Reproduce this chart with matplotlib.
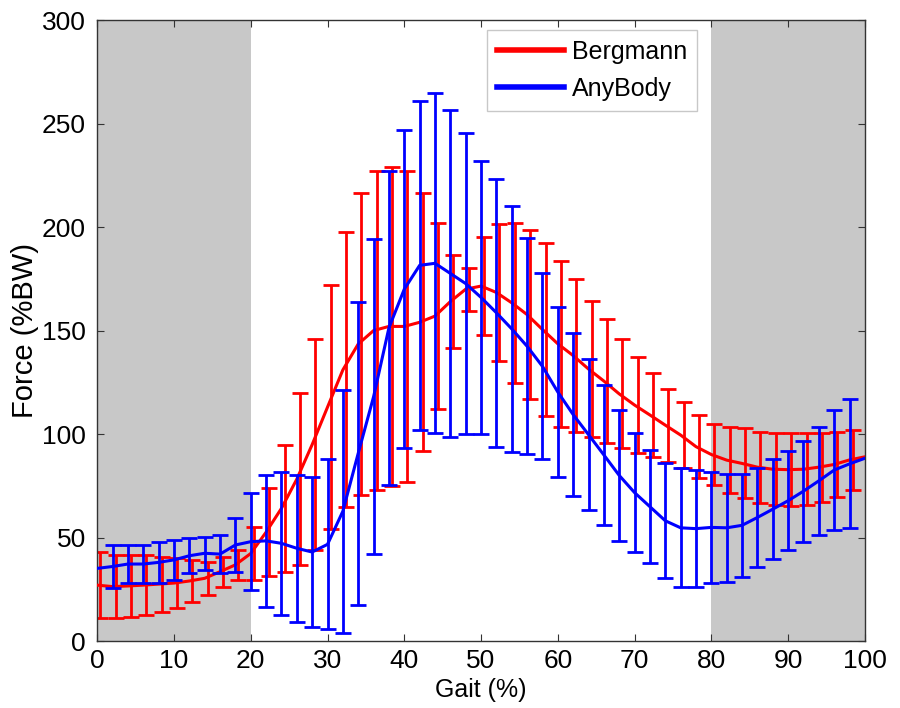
import numpy as np
import matplotlib.pyplot as plt
from matplotlib import rcParams

rcParams['font.family'] = ['Liberation Sans', 'DejaVu Sans']

# gait cycle sampled every 2 %
gait = np.arange(0, 101, 2)

# Bergmann (in vivo) mean force, %BW, at 0..100
berg_mean = np.array([27, 26.3, 26.6, 27, 27.5, 28, 29, 30.3, 33.5, 36.8,
                      42.3, 52.6, 64.1, 78.2, 94.9, 113, 131, 143.5, 150, 152,
                      152, 154, 157, 164, 170, 171.5, 168.4, 163.4, 157.7, 150.5,
                      143.6, 137.9, 131.4, 125.6, 119.4, 114, 109.2, 104.3, 99.5, 93.9,
                      90.1, 87.4, 85.8, 84, 83, 82.8, 83, 84, 85.3, 87.5,
                      89])
# Bergmann SD at 0..98
berg_sd = np.array([16, 15.3, 14.9, 14.5, 13.3, 12.1, 10, 8, 7.3, 7.3,
                    12.9, 21.2, 30.6, 41.5, 50.9, 59, 66.4, 72.9, 77.1, 76.9,
                    75.1, 62.4, 45, 22.3, 10.4, 23.8, 33, 38.6, 40.9, 41.9,
                    40.1, 36.8, 33, 29.8, 26.3, 23, 20.5, 17.7, 16.1, 15.3,
                    14.7, 16.1, 16.9, 17.2, 17.3, 17.6, 17.3, 16.7, 15.9, 14.5])

# AnyBody model mean force, %BW, at 0..100
any_mean = np.array([35.1, 36, 37.2, 37.2, 38, 39.2, 41.2, 42.4, 42, 46.4,
                     48, 48.4, 47.2, 44.8, 43, 46.7, 62.7, 90.7, 118, 151.3,
                     170, 181.5, 182.5, 177.6, 172.7, 166, 158.6, 150.8, 142.4, 132.7,
                     120.3, 109.4, 99.7, 89.9, 80, 71.7, 64.9, 58.1, 54.7, 54.3,
                     54.9, 54.7, 55.9, 59.7, 63.7, 67.8, 72.4, 77.4, 82.6, 85.6,
                     88.3])
# AnyBody SD at 2..98
any_sd = np.array([10.5, 9.3, 9.3, 10, 9.7, 8.5, 8, 9.3, 12.9,
                   23.4, 31.8, 34.6, 35.5, 36.1, 41.1, 58.7, 73.3, 76, 75.9,
                   76.9, 79.6, 82.2, 78.9, 72.7, 66, 64.7, 59.3, 52.1, 44.9,
                   41.2, 39.2, 36.4, 33.9, 31.6, 28.6, 27.4, 27.8, 28.8, 28.4,
                   27, 26, 24.8, 23.8, 24.2, 23.8, 24.4, 26.2, 29, 31.2])

red_shift = 0.4  # Bergmann bars sit a little right of the AnyBody ones

fig = plt.figure(figsize=(9, 7.08), dpi=100)
ax = fig.add_axes([0.108, 0.0946, 0.853, 0.877])

# stance phases shaded
ax.axvspan(0, 20, color='#c8c8c8', lw=0, zorder=0)
ax.axvspan(80, 100, color='#c8c8c8', lw=0, zorder=0)

ax.errorbar(gait[:-1] + red_shift, berg_mean[:-1], yerr=berg_sd, fmt='none',
            ecolor='#ff0000', elinewidth=2, capsize=5.5, capthick=2, zorder=2)
ax.plot(gait, berg_mean, color='#ff0000', lw=2.2, label='Bergmann', zorder=3)

ax.errorbar(gait[1:-1], any_mean[1:-1], yerr=any_sd, fmt='none',
            ecolor='#0000ff', elinewidth=2, capsize=5.5, capthick=2, zorder=4)
ax.plot(gait, any_mean, color='#0000ff', lw=2.2, label='AnyBody', zorder=5)

ax.set_xlim(0, 100)
ax.set_ylim(0, 300)
ax.set_xticks(np.arange(0, 101, 10))
ax.set_yticks(np.arange(0, 301, 50))
ax.tick_params(direction='in', top=True, right=True, length=5, width=0.8,
               labelsize=19, color='#333333')
ax.tick_params(axis='x', pad=6)
ax.tick_params(axis='y', pad=8)
for s in ax.spines.values():
    s.set_color('#333333')
    s.set_linewidth(1)

ax.set_xlabel('Gait (%)', fontsize=18, labelpad=3)
ax.set_ylabel('Force (%BW)', fontsize=21, labelpad=2)

leg = ax.legend(loc='upper right', bbox_to_anchor=(0.781, 0.984), fontsize=18,
                frameon=True, fancybox=False, edgecolor='#bbbbbb',
                handlelength=2.7, borderpad=0.4, labelspacing=0.5,
                handletextpad=0.3, borderaxespad=0)
leg.set_zorder(10)
for l in leg.get_lines():
    l.set_linewidth(4)

fig.savefig('out.png', dpi=100)
